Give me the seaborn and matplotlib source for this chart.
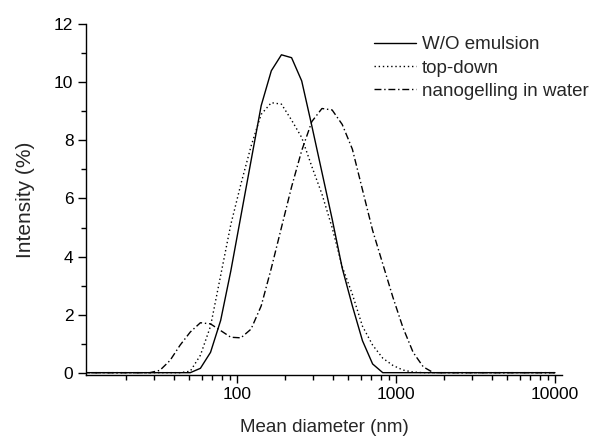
import numpy as np
import pandas as pd
import seaborn as sns
import matplotlib
matplotlib.use("Agg")
import matplotlib.pyplot as plt
from matplotlib.ticker import LogLocator, FixedLocator, NullFormatter

# size bins (nm), 10.1 .. 10000
sizes = [10.1, 11.7, 13.54, 15.69, 18.17, 21.04, 24.36, 28.21, 32.67, 37.84,
         43.82, 50.75, 58.77, 68.06, 78.82, 91.28, 105.7, 122.4, 141.8, 164.2,
         190.1, 220.2, 255.0, 295.3, 342.0, 396.1, 458.7, 531.2, 615.1, 712.4,
         825.0, 955.4, 1106, 1281, 1484, 1718, 1990, 2305, 2669, 3091,
         3580, 4145, 4801, 5560, 6439, 7456, 8635, 10000]

wo_emulsion = [0, 0, 0, 0, 0, 0, 0, 0, 0, 0,
               0, 0, 0.15, 0.7, 1.8, 3.5, 5.4, 7.3, 9.2, 10.4,
               10.95, 10.85, 10.05, 8.5, 6.9, 5.3, 3.6, 2.3, 1.1, 0.3,
               0, 0, 0, 0, 0, 0, 0, 0, 0, 0,
               0, 0, 0, 0, 0, 0, 0, 0]

top_down = [0, 0, 0, 0, 0, 0, 0, 0, 0, 0,
            0, 0.05, 0.6, 1.6, 3.35, 5.1, 6.5, 7.8, 8.9, 9.3,
            9.25, 8.7, 8.1, 7.1, 6.15, 5.0, 3.65, 2.7, 1.6, 0.95,
            0.5, 0.25, 0.09, 0.02, 0, 0, 0, 0, 0, 0,
            0, 0, 0, 0, 0, 0, 0, 0]

nanogelling = [0, 0, 0, 0, 0, 0, 0, 0, 0.08, 0.42,
               0.95, 1.4, 1.72, 1.68, 1.45, 1.22, 1.2, 1.5, 2.3, 3.6,
               5.0, 6.4, 7.65, 8.65, 9.1, 9.05, 8.55, 7.7, 6.3, 4.9,
               3.75, 2.6, 1.55, 0.7, 0.2, 0, 0, 0, 0, 0,
               0, 0, 0, 0, 0, 0, 0, 0]

sns.set_style("ticks")
plt.rcParams['font.family'] = ['Liberation Sans', 'DejaVu Sans']

fig = plt.figure(figsize=(5.95, 4.42), dpi=100)
ax = fig.add_axes([0.1445, 0.1516, 0.8, 0.7934])
ax.set_xscale('log')

sns.lineplot(x=sizes, y=wo_emulsion, ax=ax, color='black', lw=1.0,
             linestyle='-', label='W/O emulsion')
sns.lineplot(x=sizes, y=top_down, ax=ax, color='black', lw=1.0,
             linestyle=(0, (1, 2)), label='top-down')
sns.lineplot(x=sizes, y=nanogelling, ax=ax, color='black', lw=1.0,
             linestyle=(0, (5, 2, 1, 2)), label='nanogelling in water')

ax.set_xlim(11.2, 11070)
ax.set_ylim(-0.08, 12)
ax.set_yticks([0, 2, 4, 6, 8, 10, 12])
ax.yaxis.set_minor_locator(FixedLocator([1, 3, 5, 7, 9, 11]))
ax.set_xticks([100, 1000, 10000])
ax.set_xticklabels(['100', '1000', '10000'])
ax.xaxis.set_minor_locator(LogLocator(base=10, subs=np.arange(2, 10)))
ax.xaxis.set_minor_formatter(NullFormatter())

for side in ['top', 'right']:
    ax.spines[side].set_visible(False)
for side in ['left', 'bottom']:
    ax.spines[side].set_linewidth(1.0)
    ax.spines[side].set_color('black')

ax.tick_params(which='major', direction='out', length=6, width=1.0,
               labelsize=12.5, pad=3, colors='black')
ax.tick_params(which='minor', direction='out', length=3.5, width=1.0,
               colors='black')

ax.set_xlabel('Mean diameter (nm)', fontsize=13.5, labelpad=12)
ax.set_ylabel('Intensity (%)', fontsize=15, labelpad=14)

ax.legend(loc='upper left', bbox_to_anchor=(0.628, 0.918),
          bbox_transform=fig.transFigure, frameon=False, fontsize=13.5,
          borderpad=0, borderaxespad=0, handlelength=2.25,
          handletextpad=0.32, labelspacing=0.33)

fig.savefig('out.png', dpi=100)
